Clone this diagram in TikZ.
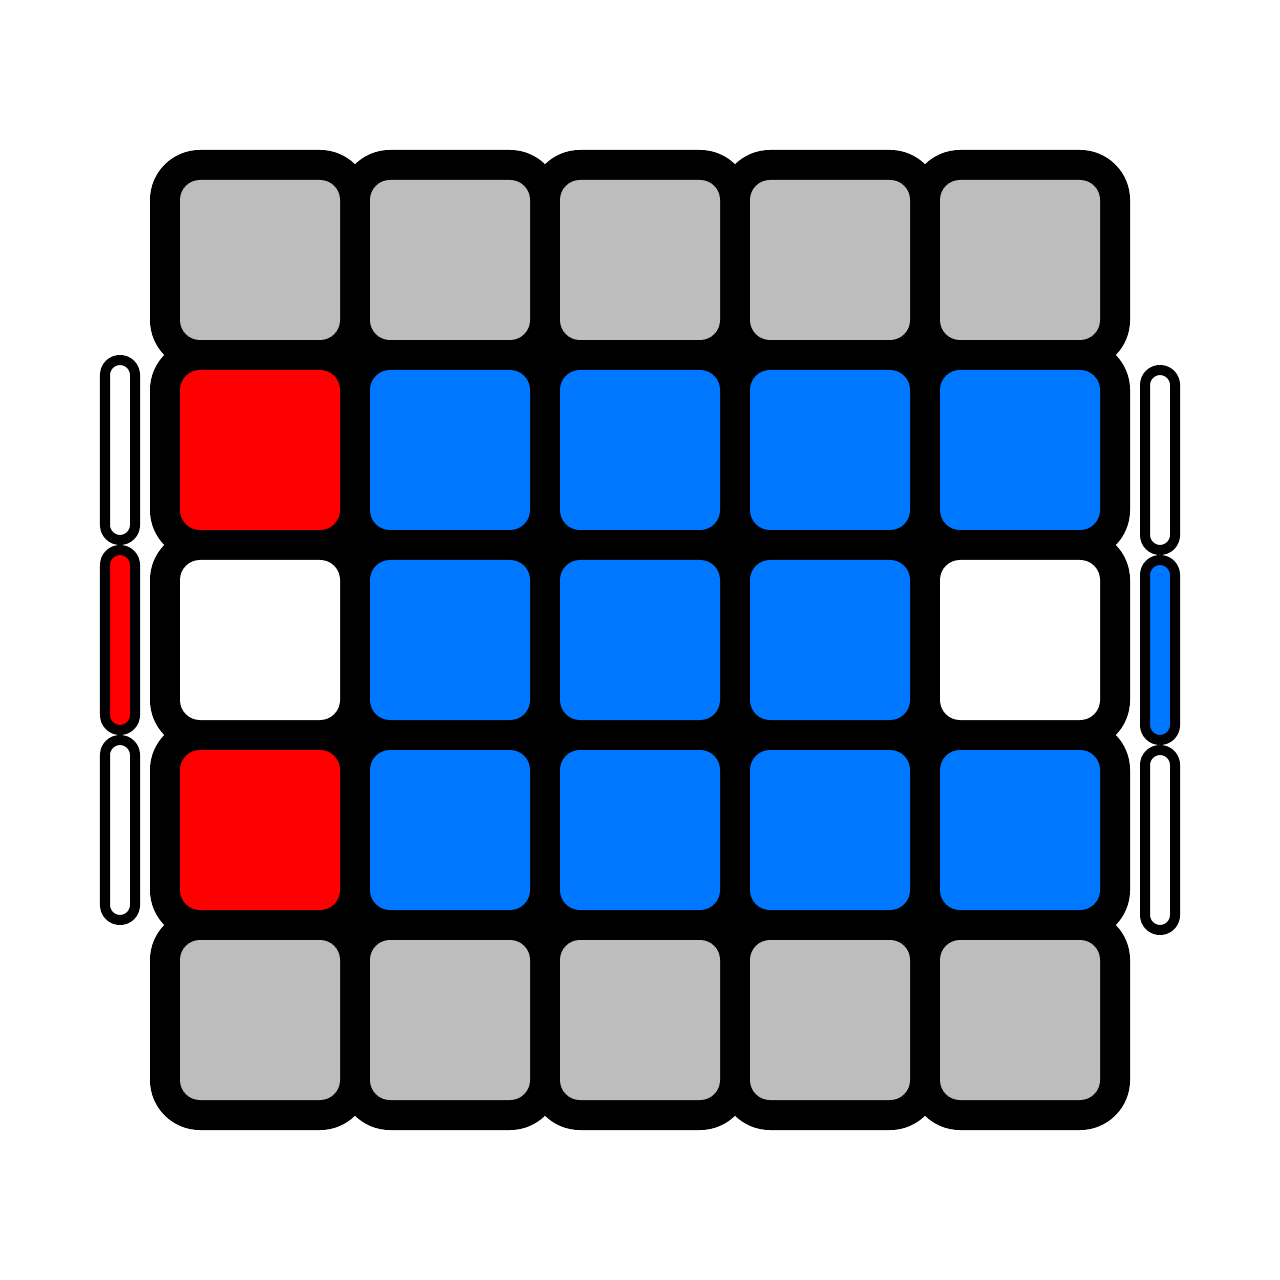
\documentclass[tikz,border=0pt]{standalone}
\usetikzlibrary{positioning}
\definecolor{stickergray}{RGB}{189,189,189}
\definecolor{stickerblue}{RGB}{0,119,255}
\definecolor{stickerred}{RGB}{255,0,0}
\tikzset{
    frame/.style={fill=black, rounded corners=5mm},
    sticker/.style={rounded corners=2mm},
    sidebar/.style={draw=black, line width=1mm, rounded corners=1.5mm}
}
\begin{document}
\begin{tikzpicture}[x=0.01cm, y=-0.01cm]
    \useasboundingbox (0,0) rectangle (1280,1280);

    % Black frame behind every sticker
    \foreach \r in {0,...,4}
        \foreach \c in {0,...,4}
            \fill[frame] ({150+190*\c},{150+190*\r}) rectangle +(220,220);

    % Top and bottom rows (gray)
    \foreach \c in {0,...,4} {
        \fill[sticker, stickergray] ({180+190*\c},180) rectangle +(160,160);
        \fill[sticker, stickergray] ({180+190*\c},940) rectangle +(160,160);
    }

    % Middle rows
    \foreach \c/\col in {0/stickerred, 1/stickerblue, 2/stickerblue, 3/stickerblue, 4/stickerblue}
        \fill[sticker, \col] ({180+190*\c},370) rectangle +(160,160);
    \foreach \c/\col in {0/white, 1/stickerblue, 2/stickerblue, 3/stickerblue, 4/white}
        \fill[sticker, \col] ({180+190*\c},560) rectangle +(160,160);
    \foreach \c/\col in {0/stickerred, 1/stickerblue, 2/stickerblue, 3/stickerblue, 4/stickerblue}
        \fill[sticker, \col] ({180+190*\c},750) rectangle +(160,160);

    % Side bars, left
    \foreach \i/\col in {0/white, 1/stickerred, 2/white}
        \draw[sidebar, fill=\col] (105,{360+190*\i}) rectangle (135,{540+190*\i});

    % Side bars, right
    \foreach \i/\col in {0/white, 1/stickerblue, 2/white}
        \draw[sidebar, fill=\col] (1145,{370+190*\i}) rectangle (1175,{550+190*\i});
\end{tikzpicture}
\end{document}
